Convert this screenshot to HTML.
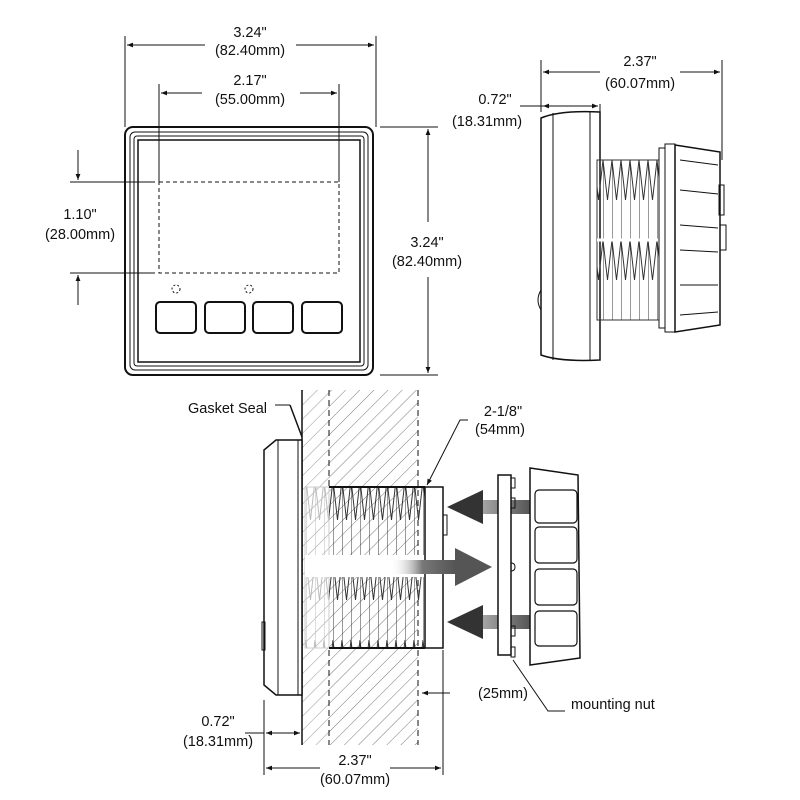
<!DOCTYPE html>
<html><head><meta charset="utf-8"><style>
html,body{margin:0;padding:0;background:#fff;}
svg{display:block;}
text{font-family:"Liberation Sans",sans-serif;font-size:14.5px;fill:#111;}
</style></head><body>
<svg width="800" height="800" viewBox="0 0 800 800" xmlns="http://www.w3.org/2000/svg">
<defs>
<marker id="a" viewBox="0 0 10 10" refX="10" refY="5" markerWidth="8" markerHeight="6" orient="auto-start-reverse"><path d="M0,1 L10,5 L0,9 z" fill="#111"/></marker>
<pattern id="h" width="10" height="10" patternUnits="userSpaceOnUse" patternTransform="rotate(45)"><line x1="0" y1="0" x2="0" y2="10" stroke="#555" stroke-width="0.8"/></pattern>
<pattern id="hl" width="10" height="10" patternUnits="userSpaceOnUse" patternTransform="rotate(45)"><line x1="0" y1="0" x2="0" y2="10" stroke="#ccc" stroke-width="0.8"/></pattern>
<pattern id="th" width="9" height="80" patternUnits="userSpaceOnUse"><path d="M0,0 L0,80 M0,0 L4.5,40 L9,0" fill="none" stroke="#333" stroke-width="1"/></pattern>
<pattern id="thl" width="9" height="80" patternUnits="userSpaceOnUse"><path d="M0,0 L0,80 M0,0 L4.5,40 L9,0" fill="none" stroke="#bbb" stroke-width="1"/></pattern>
<linearGradient id="gl" x1="1" y1="0" x2="0" y2="0"><stop offset="0" stop-color="#555"/><stop offset="1" stop-color="#aaa"/></linearGradient>
<linearGradient id="gr" x1="0" y1="0" x2="1" y2="0"><stop offset="0" stop-color="#fff" stop-opacity="0"/><stop offset="0.5" stop-color="#777"/><stop offset="1" stop-color="#555"/></linearGradient>
</defs>
<g stroke="#111" fill="none" stroke-width="1">
<rect x="125" y="127" width="248" height="248" rx="8" stroke-width="2"/>
<rect x="130" y="132" width="238" height="238" rx="5"/>
<rect x="134" y="136" width="230" height="230" rx="3"/>
<rect x="138" y="140" width="222" height="222" stroke-width="1.5"/>
<rect x="159" y="182" width="180" height="91" stroke-dasharray="4,3"/>
<circle cx="176" cy="289" r="4" stroke-dasharray="2,2"/>
<circle cx="249" cy="289" r="4" stroke-dasharray="2,2"/>
<rect x="156" y="302" width="40" height="31" rx="4" stroke-width="2"/>
<rect x="205" y="302" width="40" height="31" rx="4" stroke-width="2"/>
<rect x="253" y="302" width="40" height="31" rx="4" stroke-width="2"/>
<rect x="302" y="302" width="40" height="31" rx="4" stroke-width="2"/>
<line x1="125" y1="36" x2="125" y2="127"/><line x1="376" y1="36" x2="376" y2="127"/>
<line x1="127" y1="45" x2="205" y2="45" marker-start="url(#a)"/><line x1="296" y1="45" x2="374" y2="45" marker-end="url(#a)"/>
<line x1="159" y1="84" x2="159" y2="182"/><line x1="339" y1="84" x2="339" y2="182"/>
<line x1="161" y1="93" x2="202" y2="93" marker-start="url(#a)"/><line x1="300" y1="93" x2="337" y2="93" marker-end="url(#a)"/>
<line x1="70" y1="182" x2="155" y2="182"/><line x1="70" y1="273" x2="155" y2="273"/>
<line x1="78" y1="150" x2="78" y2="180" marker-end="url(#a)"/><line x1="78" y1="305" x2="78" y2="275" marker-end="url(#a)"/>
<line x1="380" y1="127" x2="438" y2="127"/><line x1="380" y1="375" x2="438" y2="375"/>
<line x1="428" y1="129" x2="428" y2="222" marker-start="url(#a)"/><line x1="428" y1="277" x2="428" y2="373" marker-end="url(#a)"/>
<path d="M541,118 Q560,110 600,112 L600,360 Q560,362 541,355 Z" stroke-width="1.5"/>
<line x1="553" y1="113" x2="553" y2="360"/><line x1="590" y1="112" x2="590" y2="360"/>
<path d="M541,290 q-6,10 0,20"/>
<rect x="597" y="160" width="62" height="160" fill="url(#th)" stroke="#333"/>
<line x1="597" y1="240" x2="659" y2="240" stroke="#fff" stroke-width="3"/>
<rect x="659" y="148" width="6" height="180"/>
<rect x="665" y="144" width="10" height="188"/>
<path d="M675,145 L720,152 L720,325 L675,332 Z" stroke-width="1.5"/>
<path d="M680,160 L718,165 M680,190 L718,194 M680,225 L718,228 M680,250 L718,252 M680,285 L718,285 M680,315 L718,312"/>
<rect x="719" y="185" width="5" height="30"/><rect x="720" y="225" width="6" height="25"/>
<line x1="541" y1="60" x2="541" y2="112"/><line x1="722" y1="60" x2="722" y2="160"/>
<line x1="543" y1="72" x2="600" y2="72" marker-start="url(#a)"/><line x1="680" y1="72" x2="720" y2="72" marker-end="url(#a)"/>
<line x1="520" y1="106" x2="552" y2="106"/>
<line x1="543" y1="106" x2="598" y2="106" marker-start="url(#a)" marker-end="url(#a)"/>
<line x1="600" y1="104" x2="600" y2="112"/>
<rect x="302" y="390" width="116" height="355" fill="url(#h)" stroke="none"/>
<rect x="302" y="390" width="27" height="355" fill="url(#hl)" stroke="none"/>
<line x1="302" y1="390" x2="302" y2="745" stroke-width="1.5"/>
<line x1="329" y1="390" x2="329" y2="745" stroke-dasharray="6,4"/>
<line x1="418" y1="390" x2="418" y2="745" stroke-dasharray="6,4"/>
<path d="M302,440 L276,440 L264,450 L264,685 L276,695 L302,695 Z" fill="#fff" stroke-width="1.5"/>
<line x1="278" y1="440" x2="278" y2="695"/><line x1="298" y1="440" x2="298" y2="695"/>
<rect x="262" y="622" width="3" height="28"/>
<rect x="305" y="487" width="24" height="161" fill="url(#thl)" stroke="#ccc"/>
<rect x="329" y="487" width="96" height="161" fill="url(#th)" stroke="none"/>
<line x1="329" y1="487" x2="425" y2="487" stroke-width="2"/><line x1="329" y1="648" x2="425" y2="648" stroke-width="2"/>
<rect x="305" y="555" width="120" height="22" fill="#fff" stroke="none"/>
<rect x="425" y="487" width="18" height="161" fill="#fff" stroke-width="1.5"/>
<rect x="443" y="515" width="4" height="20"/>
<rect x="390" y="560" width="65" height="14" fill="url(#gr)" stroke="none"/>
<path d="M455,548 L492,567 L455,586 Z" fill="#555" stroke="none"/>
<rect x="480" y="500" width="50" height="14" fill="url(#gl)" stroke="none"/>
<path d="M483,490 L447,507 L483,524 Z" fill="#333" stroke="none"/>
<rect x="480" y="615" width="50" height="14" fill="url(#gl)" stroke="none"/>
<path d="M483,605 L447,622 L483,639 Z" fill="#333" stroke="none"/>
<rect x="498" y="475" width="13" height="180" fill="#fff" stroke-width="1.5"/>
<rect x="511" y="478" width="4" height="10"/><rect x="511" y="647" width="4" height="10"/>
<path d="M511,498 h4 v10 h-4 M511,563 q4,0 4,4 q0,4 -4,4 M511,626 h4 v10 h-4"/>
<path d="M530,468 L578,475 L580,658 L530,665 Z" fill="#fff" stroke-width="1.5"/>
<rect x="535" y="490" width="42" height="33" rx="4" stroke-width="1.2"/>
<rect x="535" y="527" width="42" height="36" rx="4" stroke-width="1.2"/>
<rect x="535" y="569" width="42" height="36" rx="4" stroke-width="1.2"/>
<rect x="535" y="611" width="42" height="35" rx="4" stroke-width="1.2"/>
<line x1="275" y1="405" x2="290" y2="405"/><line x1="290" y1="405" x2="302" y2="437" stroke-width="1.5"/>
<path d="M468,420 L460,420 L427,485" marker-end="url(#a)"/>
<line x1="450" y1="693" x2="422" y2="693" marker-end="url(#a)"/>
<line x1="443" y1="650" x2="443" y2="775"/>
<path d="M565,711 L548,711 L513,660"/>
<line x1="264" y1="700" x2="264" y2="775"/>
<line x1="245" y1="733" x2="264" y2="733"/>
<line x1="266" y1="733" x2="300" y2="733" marker-start="url(#a)" marker-end="url(#a)"/>
<line x1="266" y1="768" x2="320" y2="768" marker-start="url(#a)"/><line x1="390" y1="768" x2="441" y2="768" marker-end="url(#a)"/>
</g>
<g text-anchor="middle">
<text x="250" y="37">3.24"</text><text x="250" y="55">(82.40mm)</text>
<text x="250" y="85">2.17"</text><text x="250" y="104">(55.00mm)</text>
<text x="80" y="219">1.10"</text><text x="80" y="239">(28.00mm)</text>
<text x="427" y="247">3.24"</text><text x="427" y="266">(82.40mm)</text>
<text x="640" y="66">2.37"</text><text x="640" y="88">(60.07mm)</text>
<text x="495" y="104">0.72"</text><text x="487" y="126">(18.31mm)</text>
<text x="503" y="416">2-1/8"</text><text x="500" y="434">(54mm)</text>
<text x="503" y="698">(25mm)</text>
<text x="218" y="726">0.72"</text><text x="218" y="746">(18.31mm)</text>
<text x="355" y="765">2.37"</text><text x="355" y="784">(60.07mm)</text>
</g>
<text x="188" y="413">Gasket Seal</text>
<text x="571" y="709">mounting nut</text>
</svg>
</body></html>
